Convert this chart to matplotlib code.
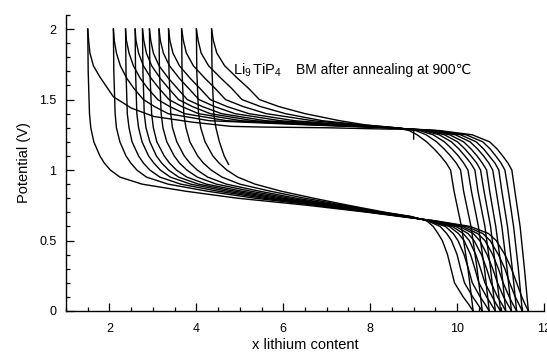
import matplotlib
matplotlib.use("Agg")
import matplotlib.pyplot as plt
from matplotlib.ticker import MultipleLocator

plt.rcParams["font.family"] = ["Liberation Sans", "DejaVu Sans"]
plt.rcParams["mathtext.fontset"] = "custom"
plt.rcParams["mathtext.rm"] = "Liberation Sans"
plt.rcParams["mathtext.it"] = "Liberation Sans:italic"

# discharge curves: x at each potential level, one row per cycle
dis_v = [2.0, 1.7, 1.4, 1.3, 1.2, 1.1, 1.05, 1.0, 0.95, 0.9, 0.85, 0.8, 0.75,
         0.7, 0.67, 0.64, 0.6, 0.55, 0.5, 0.4, 0.3, 0.2, 0.1, 0.05, 0.0]
dis_x = [
    [1.50, 1.51, 1.54, 1.57, 1.64, 1.78, 1.88, 2.02, 2.24, 2.75, 3.75, 4.95, 6.55,
     7.95, 8.70, 9.50, 10.30, 10.72, 10.90, 11.10, 11.25, 11.37, 11.49, 11.56, 11.64],
    [2.09, 2.10, 2.13, 2.16, 2.24, 2.38, 2.49, 2.63, 2.85, 3.35, 4.25, 5.35, 6.75,
     8.00, 8.73, 9.47, 10.21, 10.59, 10.76, 10.95, 11.10, 11.21, 11.34, 11.42, 11.50],
    [2.37, 2.38, 2.41, 2.45, 2.52, 2.67, 2.78, 2.93, 3.16, 3.64, 4.50, 5.55, 6.85,
     8.05, 8.76, 9.44, 10.12, 10.47, 10.64, 10.82, 10.95, 11.06, 11.20, 11.28, 11.37],
    [2.59, 2.60, 2.63, 2.67, 2.75, 2.90, 3.02, 3.17, 3.40, 3.87, 4.70, 5.70, 6.95,
     8.08, 8.79, 9.42, 10.05, 10.37, 10.52, 10.69, 10.82, 10.93, 11.07, 11.16, 11.25],
    [2.76, 2.77, 2.80, 2.84, 2.93, 3.08, 3.20, 3.36, 3.59, 4.05, 4.88, 5.85, 7.05,
     8.12, 8.82, 9.40, 9.97, 10.25, 10.39, 10.56, 10.68, 10.78, 10.93, 11.03, 11.12],
    [2.92, 2.93, 2.97, 3.01, 3.09, 3.26, 3.38, 3.54, 3.78, 4.23, 5.05, 6.00, 7.12,
     8.15, 8.85, 9.38, 9.89, 10.14, 10.28, 10.43, 10.54, 10.64, 10.81, 10.90, 11.00],
    [3.14, 3.15, 3.19, 3.23, 3.32, 3.49, 3.61, 3.78, 4.02, 4.46, 5.25, 6.15, 7.20,
     8.20, 8.88, 9.36, 9.82, 10.03, 10.16, 10.31, 10.41, 10.50, 10.68, 10.78, 10.88],
    [3.36, 3.37, 3.41, 3.45, 3.55, 3.72, 3.85, 4.02, 4.26, 4.69, 5.45, 6.30, 7.28,
     8.25, 8.91, 9.34, 9.73, 9.91, 10.02, 10.16, 10.26, 10.35, 10.53, 10.64, 10.74],
    [3.66, 3.67, 3.71, 3.76, 3.85, 4.03, 4.16, 4.34, 4.59, 5.00, 5.70, 6.50, 7.40,
     8.30, 8.93, 9.32, 9.61, 9.76, 9.87, 10.00, 10.08, 10.17, 10.36, 10.47, 10.58],
    [4.00, 4.01, 4.05, 4.10, 4.20, 4.38, 4.52, 4.70, 4.95, 5.35, 5.95, 6.70, 7.50,
     8.35, 8.95, 9.30, 9.45, 9.56, 9.66, 9.78, 9.86, 9.94, 10.14, 10.26, 10.37],
]

# last discharge, stopped early
last_x = [4.35, 4.36, 4.40, 4.45, 4.53, 4.64, 4.74]
last_v = [2.0, 1.7, 1.4, 1.3, 1.2, 1.1, 1.04]

# first charge, from the pristine material at x = 9
first_x = [9.0, 9.0, 8.5, 7.0, 5.5, 4.79, 3.9, 3.02, 2.5, 2.09, 1.78, 1.63, 1.55, 1.52, 1.5]
first_v = [1.22, 1.29, 1.29, 1.30, 1.305, 1.31, 1.34, 1.38, 1.44, 1.52, 1.66, 1.74, 1.83, 1.92, 2.0]

# charge curves: x at each potential level, one row per cycle
chg_v = [0.0, 0.3, 0.6, 0.85, 1.0, 1.05, 1.1, 1.15, 1.2, 1.25, 1.28, 1.30,
         1.32, 1.35, 1.40, 1.45, 1.50, 1.58, 1.65, 1.74, 1.83, 1.92, 2.0]
chg_x = [
    [11.64, 11.55, 11.45, 11.33, 11.26, 11.17, 11.05, 10.92, 10.75, 10.35, 9.60, 8.40,
     6.60, 4.30, 3.35, 3.04, 2.78, 2.56, 2.40, 2.25, 2.16, 2.11, 2.09],
    [11.50, 11.41, 11.30, 11.18, 11.10, 11.01, 10.89, 10.76, 10.59, 10.21, 9.52, 8.42,
     6.76, 4.70, 3.73, 3.39, 3.11, 2.88, 2.71, 2.55, 2.45, 2.39, 2.37],
    [11.37, 11.27, 11.16, 11.03, 10.96, 10.87, 10.74, 10.61, 10.44, 10.08, 9.46, 8.44,
     6.91, 5.03, 4.05, 3.67, 3.37, 3.14, 2.96, 2.78, 2.67, 2.61, 2.59],
    [11.25, 11.15, 11.03, 10.90, 10.82, 10.73, 10.61, 10.47, 10.30, 9.96, 9.40, 8.47,
     7.07, 5.32, 4.32, 3.91, 3.59, 3.36, 3.17, 2.97, 2.85, 2.79, 2.76],
    [11.12, 11.02, 10.89, 10.75, 10.68, 10.58, 10.46, 10.32, 10.15, 9.83, 9.33, 8.49,
     7.22, 5.59, 4.58, 4.14, 3.79, 3.56, 3.36, 3.14, 3.01, 2.95, 2.92],
    [11.00, 10.89, 10.77, 10.62, 10.54, 10.45, 10.32, 10.18, 10.01, 9.71, 9.28, 8.51,
     7.38, 5.93, 4.89, 4.42, 4.06, 3.82, 3.61, 3.38, 3.24, 3.17, 3.14],
    [10.88, 10.77, 10.64, 10.48, 10.41, 10.31, 10.18, 10.04, 9.87, 9.59, 9.22, 8.53,
     7.53, 6.26, 5.21, 4.71, 4.32, 4.08, 3.86, 3.61, 3.46, 3.39, 3.36],
    [10.74, 10.63, 10.49, 10.33, 10.25, 10.15, 10.03, 9.88, 9.71, 9.45, 9.14, 8.56,
     7.69, 6.68, 5.61, 5.08, 4.67, 4.43, 4.20, 3.93, 3.77, 3.70, 3.66],
    [10.58, 10.46, 10.32, 10.15, 10.08, 9.98, 9.85, 9.70, 9.53, 9.29, 9.05, 8.58,
     7.84, 6.90, 6.05, 5.48, 5.05, 4.81, 4.57, 4.28, 4.11, 4.04, 4.00],
    [10.37, 10.25, 10.10, 9.93, 9.85, 9.75, 9.62, 9.47, 9.30, 9.08, 8.90, 8.60,
     7.90, 7.30, 6.50, 5.90, 5.45, 5.20, 4.95, 4.65, 4.47, 4.39, 4.35],
]

y_ticks = [0, 0.5, 1, 1.5, 2]
y_labels = ["0", "0.5", "1", "1.5", "2"]
x_ticks = [2, 4, 6, 8, 10, 12]


def main():
    fig = plt.figure(figsize=(5.47, 3.53), dpi=100)
    ax = fig.add_axes([0.1207, 0.119, 0.8738, 0.8385])

    line = dict(color="black", lw=1.0)
    ax.plot(first_x, first_v, **line)
    for xs in dis_x:
        ax.plot(xs, dis_v, **line)
    for xs in chg_x:
        ax.plot(xs, chg_v, **line)
    ax.plot(last_x, last_v, **line)

    ax.set_xlim(1, 12)
    ax.set_ylim(0, 2.1)
    ax.set_xticks(x_ticks)
    ax.set_yticks(y_ticks)
    ax.set_yticklabels(y_labels)
    ax.xaxis.set_minor_locator(MultipleLocator(0.5))
    ax.yaxis.set_minor_locator(MultipleLocator(0.1))
    ax.tick_params(which="both", direction="in", labelsize=9, width=0.9)
    ax.tick_params(which="major", length=5.5)
    ax.tick_params(which="minor", length=3.2)
    ax.tick_params(axis="x", which="major", pad=9)
    ax.tick_params(axis="y", which="major", pad=7)

    ax.spines["top"].set_visible(False)
    ax.spines["right"].set_visible(False)
    ax.spines["left"].set_linewidth(1.0)
    ax.spines["bottom"].set_linewidth(1.0)

    ax.set_xlabel("x lithium content", fontsize=10.5, labelpad=2)
    ax.set_ylabel("Potential (V)", fontsize=10.5, labelpad=6)

    ax.text(4.85, 1.68, r"Li$_{9}\,$TiP$_{4}$", fontsize=10.5, va="baseline", ha="left")
    ax.text(6.29, 1.68, "BM after annealing at 900℃",
            fontsize=10, va="baseline", ha="left")

    fig.savefig("out.png", dpi=100)


if __name__ == "__main__":
    main()
